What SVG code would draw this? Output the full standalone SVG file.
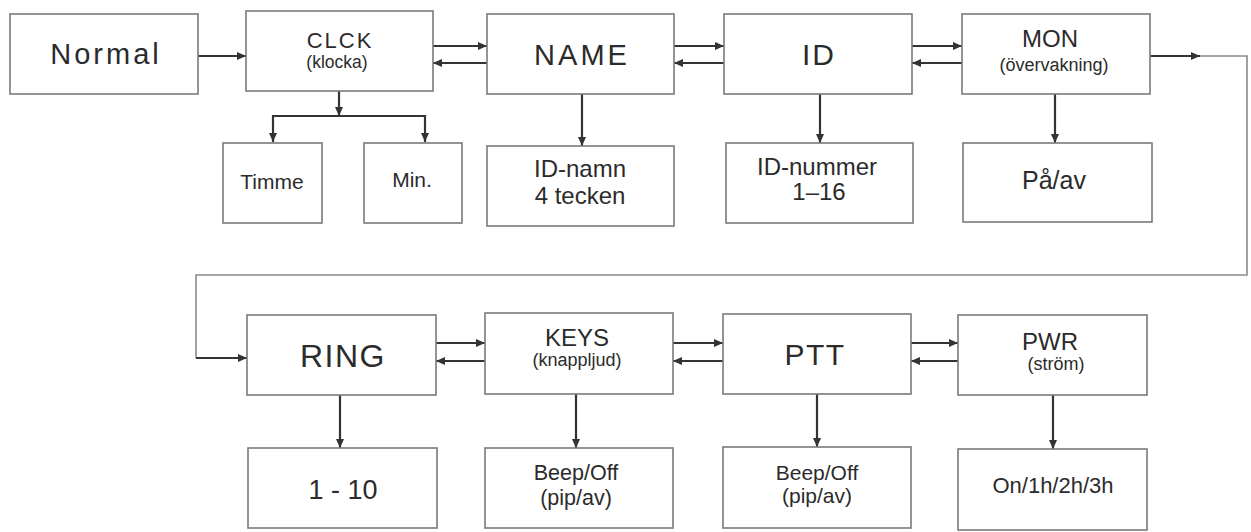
<svg xmlns="http://www.w3.org/2000/svg" width="1251" height="532" viewBox="0 0 1251 532">
<style>
.box{fill:#fff;stroke:#7a7a7a;stroke-width:1.6}
.t{font-family:"Liberation Sans",Arial,sans-serif;fill:#2b2b2b;text-anchor:middle}
.arr{fill:none;stroke:#333;stroke-width:2.2;marker-end:url(#ah)}
.loop{fill:none;stroke:#8a8a8a;stroke-width:1.6}
</style>
<defs>
<marker id="ah" markerUnits="userSpaceOnUse" markerWidth="10" markerHeight="8" refX="9" refY="4" orient="auto">
<path d="M0,0 L9,4 L0,8 z" fill="#333"/>
</marker>
</defs>
<rect width="1251" height="532" fill="#fff"/>
<g id="connectors">
<path class="arr" d="M198,56 H246"/>
<path class="arr" d="M339,91 V116"/>
<path class="arr" d="M339,116 H273 V142"/>
<path class="arr" d="M339,116 H425 V142"/>
<path class="arr" d="M433,46 H487"/>
<path class="arr" d="M487,63 H433"/>
<path class="arr" d="M674,46 H724"/>
<path class="arr" d="M724,63 H674"/>
<path class="arr" d="M912,46 H962"/>
<path class="arr" d="M962,63 H912"/>
<path class="arr" d="M582,94 V146"/>
<path class="arr" d="M820,94 V143"/>
<path class="arr" d="M1055,94 V143"/>
<path class="arr" d="M1150,56 H1200"/>
<path class="loop" d="M1200,56 H1247 V275 H196 V358"/>
<path class="arr" d="M196,358 H247"/>
<path class="arr" d="M436,343 H485"/>
<path class="arr" d="M485,361 H436"/>
<path class="arr" d="M673,343 H723"/>
<path class="arr" d="M723,361 H673"/>
<path class="arr" d="M911,343 H958"/>
<path class="arr" d="M958,361 H911"/>
<path class="arr" d="M340,395 V448"/>
<path class="arr" d="M576,394 V448"/>
<path class="arr" d="M817,394 V447"/>
<path class="arr" d="M1053,395 V449"/>
</g>
<g id="normal"><rect class="box" x="10" y="14" width="188" height="80"/><text class="t" x="106" y="64" font-size="29" letter-spacing="3">Normal</text></g>
<g id="clck"><rect class="box" x="246" y="11" width="187" height="80"/><text class="t" x="340" y="48" font-size="22" letter-spacing="2">CLCK</text><text class="t" x="337" y="68" font-size="17.5">(klocka)</text></g>
<g id="timme"><rect class="box" x="223" y="143" width="99" height="80"/><text class="t" x="272" y="189" font-size="21">Timme</text></g>
<g id="min"><rect class="box" x="364" y="143" width="98" height="80"/><text class="t" x="412" y="187" font-size="21">Min.</text></g>
<g id="name"><rect class="box" x="487" y="14" width="187" height="80"/><text class="t" x="582" y="65" font-size="29" letter-spacing="3">NAME</text></g>
<g id="idnamn"><rect class="box" x="487" y="146" width="187" height="80"/><text class="t" x="580" y="177" font-size="24">ID-namn</text><text class="t" x="580" y="204" font-size="24">4 tecken</text></g>
<g id="id"><rect class="box" x="724" y="14" width="188" height="80"/><text class="t" x="819" y="65" font-size="30" letter-spacing="2">ID</text></g>
<g id="idnummer"><rect class="box" x="726" y="143" width="187" height="80"/><text class="t" x="817" y="175" font-size="24">ID-nummer</text><text class="t" x="819" y="200" font-size="24">1–16</text></g>
<g id="mon"><rect class="box" x="962" y="14" width="188" height="80"/><text class="t" x="1050" y="47" font-size="24">MON</text><text class="t" x="1054" y="71" font-size="18">(övervakning)</text></g>
<g id="paav"><rect class="box" x="963" y="143" width="189" height="79"/><text class="t" x="1054" y="189" font-size="25">På/av</text></g>
<g id="ring"><rect class="box" x="247" y="315" width="189" height="80"/><text class="t" x="343" y="367" font-size="32" letter-spacing="1.5">RING</text></g>
<g id="ring-val"><rect class="box" x="248" y="448" width="189" height="80"/><text class="t" x="343" y="499" font-size="27">1 - 10</text></g>
<g id="keys"><rect class="box" x="485" y="313" width="188" height="81"/><text class="t" x="577" y="346" font-size="24">KEYS</text><text class="t" x="577" y="366" font-size="18">(knappljud)</text></g>
<g id="keys-val"><rect class="box" x="485" y="448" width="188" height="80"/><text class="t" x="576" y="480" font-size="21.5">Beep/Off</text><text class="t" x="576" y="505" font-size="21.5">(pip/av)</text></g>
<g id="ptt"><rect class="box" x="723" y="314" width="188" height="80"/><text class="t" x="815" y="365" font-size="30" letter-spacing="1.5">PTT</text></g>
<g id="ptt-val"><rect class="box" x="723" y="447" width="188" height="81"/><text class="t" x="817" y="480" font-size="21">Beep/Off</text><text class="t" x="817" y="503" font-size="21">(pip/av)</text></g>
<g id="pwr"><rect class="box" x="958" y="315" width="189" height="80"/><text class="t" x="1050" y="350" font-size="24">PWR</text><text class="t" x="1056" y="370" font-size="18">(ström)</text></g>
<g id="pwr-val"><rect class="box" x="958" y="449" width="189" height="81"/><text class="t" x="1053" y="493" font-size="22">On/1h/2h/3h</text></g>
</svg>
